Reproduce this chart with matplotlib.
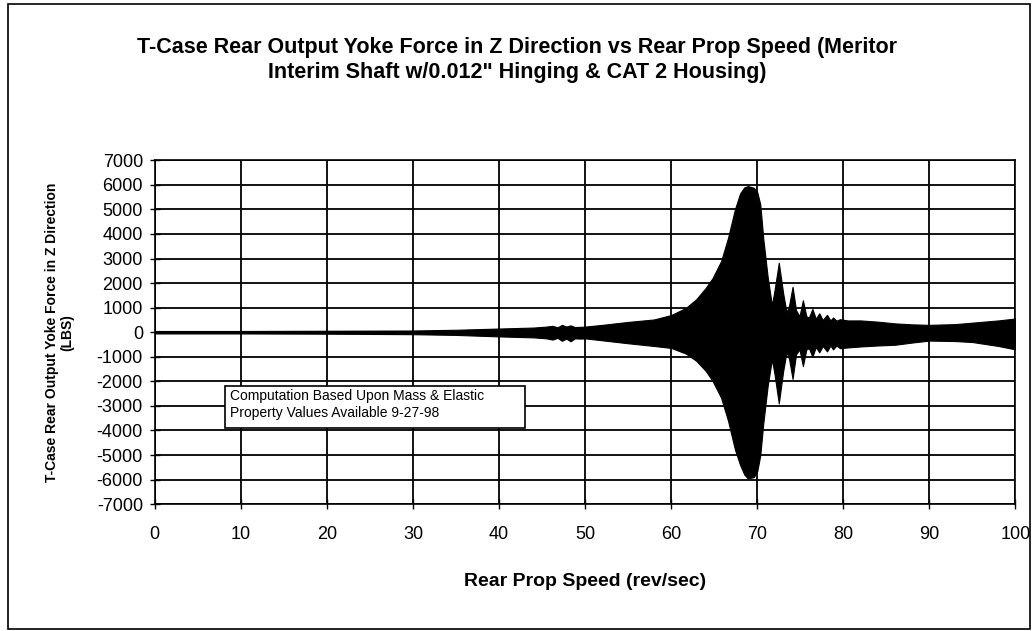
import matplotlib
matplotlib.use("Agg")
import matplotlib.pyplot as plt
from matplotlib.patches import Rectangle

plt.rcParams['font.family'] = ['Liberation Sans', 'DejaVu Sans']
plt.rcParams['axes.unicode_minus'] = False

# envelope of the yoke force trace, read at these prop speeds (rev/sec)
speed = [0, 10, 20, 30, 35, 40, 44, 45.5, 46.2, 46.8, 47.3, 47.8, 48.3, 48.8, 49.5,
         50, 52, 55, 58, 60, 61.7, 62.9, 64, 64.8, 65.8, 66.6, 67.4, 68.0, 68.5, 68.9,
         69.6, 70.0, 70.35, 70.7, 71.2, 71.7, 72.0, 72.5, 73.0, 73.4, 73.7, 74.1,
         74.5, 74.9, 75.3, 75.7, 76.0, 76.4, 76.8, 77.2, 77.6, 78.1, 78.5, 78.8,
         79.2, 79.6, 80.5, 82, 84, 86, 88, 90, 93, 95, 98, 100]
force_max = [50, 50, 60, 70, 100, 150, 190, 230, 260, 200, 300, 230, 280, 210, 220,
             230, 300, 420, 520, 700, 990, 1340, 1800, 2200, 2900, 3840, 5000, 5650, 5900, 5950,
             5880, 5700, 5200, 3800, 2270, 1100, 1700, 2830, 1600, 800, 1100, 1850,
             900, 650, 1300, 650, 600, 950, 550, 770, 500, 710, 480, 600,
             470, 530, 480, 480, 430, 360, 320, 300, 330, 390, 480, 560]
force_min = [-50, -50, -60, -80, -110, -170, -210, -250, -300, -230, -350, -260, -370, -250, -260,
             -250, -330, -450, -560, -640, -870, -1160, -1570, -1980, -2670, -3600, -4770, -5400, -5800, -5950,
             -5900, -5650, -5000, -3700, -2200, -1100, -1700, -2900, -1600, -800, -1100, -1900,
             -900, -700, -1380, -700, -650, -1000, -600, -820, -560, -780, -540, -700,
             -540, -650, -620, -580, -540, -510, -420, -340, -360, -400, -560, -700]

x_ticks = list(range(0, 101, 10))
y_ticks = list(range(-7000, 7001, 1000))

fig = plt.figure(figsize=(10.32, 6.31), dpi=100)
ax = fig.add_axes([0.150, 0.201, 0.834, 0.545])

ax.fill_between(speed, force_min, force_max, color='black', linewidth=0.8, zorder=3)

ax.set_xlim(0, 100)
ax.set_ylim(-7000, 7000)
ax.set_xticks(x_ticks)
ax.set_yticks(y_ticks)
ax.grid(True, color='black', linewidth=1.3)
ax.set_axisbelow(True)
ax.tick_params(direction='inout', length=7, width=1, labelsize=13, pad=5)
ax.tick_params(axis='x', pad=12)
for s in ax.spines.values():
    s.set_linewidth(1.2)

ax.set_xlabel('Rear Prop Speed (rev/sec)', fontsize=14, fontweight='bold', labelpad=22)
ax.set_ylabel('T-Case Rear Output Yoke Force in Z Direction\n(LBS)', fontsize=10,
              fontweight='bold', labelpad=16, linespacing=1.15)

fig.text(0.501, 0.905, 'T-Case Rear Output Yoke Force in Z Direction vs Rear Prop Speed (Meritor\n'
         'Interim Shaft w/0.012" Hinging & CAT 2 Housing)', ha='center', va='center',
         fontsize=15.5, fontweight='bold', linespacing=1.3)

# note box with its own frame, wider than the text
ax.add_patch(Rectangle((8.1, -3900), 34.9, 1700, facecolor='white', edgecolor='black',
                       linewidth=1.2, zorder=5))
ax.text(8.7, -2330, 'Computation Based Upon Mass & Elastic\nProperty Values Available 9-27-98',
        fontsize=10, va='top', ha='left', linespacing=1.25, zorder=6)

# outer frame around the whole chart
fig.patches.append(Rectangle((0.008, 0.003), 0.99, 0.99, transform=fig.transFigure,
                             fill=False, edgecolor='black', linewidth=1.2))

fig.savefig('out.png', dpi=100)
